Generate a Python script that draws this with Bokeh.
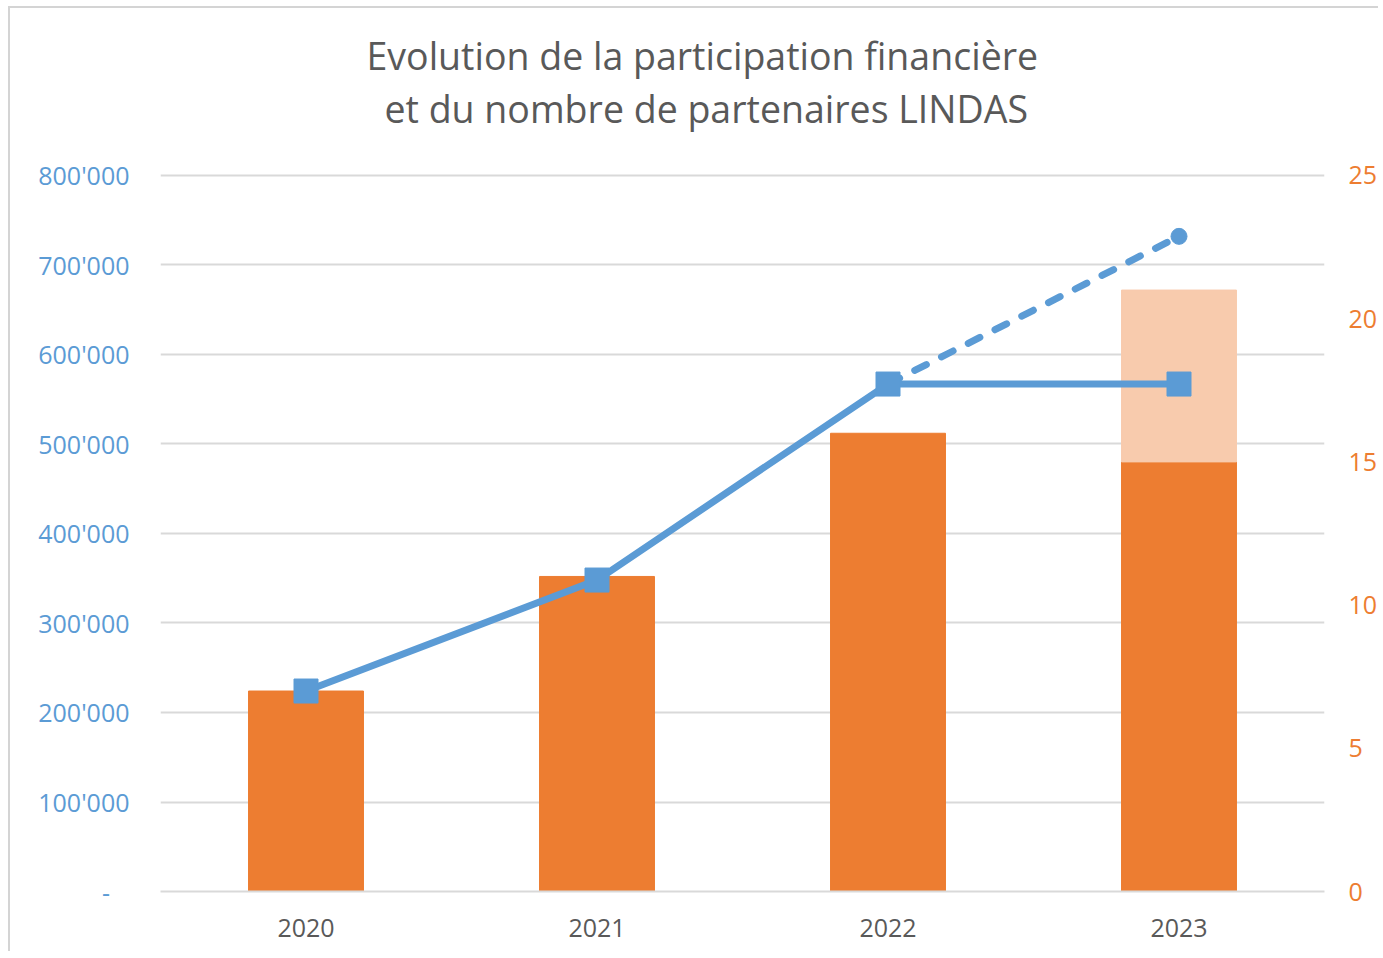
from bokeh.plotting import figure
from bokeh.models import (Range1d, LinearAxis, FixedTicker, CustomJSTickFormatter,
                          Title, FactorRange)
from bokeh.embed import file_html
from bokeh.resources import INLINE

# ---------------- data ----------------
years = ["2020", "2021", "2022", "2023"]
partners = [7, 11, 16, 15]                 # number of partners (right axis)
planned_years = ["2023"]
planned_bottom = [15]
planned_top = [21]                         # expected partners 2023
participation = [224000, 348000, 567000, 567000]   # CHF (left axis)
projection_years = ["2022", "2023"]
projection_values = [567000, 732000]
left_ticks = [0, 100000, 200000, 300000, 400000, 500000, 600000, 700000, 800000]
right_ticks = [0, 5, 10, 15, 20, 25]
title_lines = ["Evolution de la participation financière",
               "et du nombre de partenaires LINDAS"]

FONT = "Open Sans"
BLUE = "#5B9BD5"
ORANGE = "#ED7D31"
LIGHT_ORANGE = "#F8CBAD"
GRID = "#D9D9D9"
TEXT = "#595959"

# frame is 726 px high; 800'000 / 25 sit 716 px above the bottom
p = figure(x_range=FactorRange(*years), y_range=Range1d(0, 811173),
           width=1370, height=945, output_backend="svg", toolbar_location=None,
           min_border_left=150, min_border_right=55, min_border_top=157,
           min_border_bottom=62)
p.extra_y_ranges = {"partners": Range1d(0, 25.349)}
p.outline_line_color = None
p.background_fill_color = "white"
p.border_fill_color = "white"
p.styles = {"margin-left": "8px", "margin-top": "6px",
            "border-left": "2px solid #D4D4D4", "border-top": "2px solid #D4D4D4"}

# grid
p.xgrid.visible = False
p.ygrid.grid_line_color = GRID
p.ygrid.grid_line_width = 2

# left axis
la = p.left[0]
la.ticker = FixedTicker(ticks=left_ticks)
la.formatter = CustomJSTickFormatter(code="""
    if (tick == 0) { return "-\u00a0\u00a0\u00a0"; }
    return Math.round(tick).toString().replace(/\\B(?=(\\d{3})+(?!\\d))/g, "'");
""")
la.axis_line_color = None
la.major_tick_line_color = None
la.minor_tick_line_color = None
la.major_label_text_color = BLUE
la.major_label_text_font = FONT
la.major_label_text_font_size = "25px"
la.major_label_standoff = 25

# right axis
ra = LinearAxis(y_range_name="partners", ticker=FixedTicker(ticks=right_ticks))
ra.axis_line_color = None
ra.major_tick_line_color = None
ra.minor_tick_line_color = None
ra.major_label_text_color = ORANGE
ra.major_label_text_font = FONT
ra.major_label_text_font_size = "25px"
ra.major_label_standoff = 18
p.add_layout(ra, "right")

# bottom axis
xa = p.below[0]
xa.axis_line_color = GRID
xa.axis_line_width = 2
xa.major_tick_line_color = None
xa.minor_tick_line_color = None
xa.major_label_text_color = TEXT
xa.major_label_text_font = FONT
xa.major_label_text_font_size = "25px"
xa.major_label_standoff = 21

# bars
p.vbar(x=years, top=partners, width=0.395, color=ORANGE, y_range_name="partners")
p.vbar(x=planned_years, bottom=planned_bottom, top=planned_top, width=0.395,
       color=LIGHT_ORANGE, y_range_name="partners")

# lines
p.line(projection_years, projection_values, line_color=BLUE, line_width=7,
       line_dash="13 17", line_cap="round")
p.line(years, participation, line_color=BLUE, line_width=7, line_join="round")
p.scatter(years, participation, marker="square", size=24, color=BLUE)
p.scatter(projection_years[1:], projection_values[1:], marker="circle", size=16, color=BLUE)

# title: spacer next to the plot, then second line, then first line
p.add_layout(Title(text=" ", standoff=28, text_font_size="2px"), "above")
p.add_layout(Title(text=title_lines[1], align="left", offset=224, standoff=0,
                   text_font=FONT, text_font_size="37.5px", text_font_style="normal",
                   text_color=TEXT), "above")
p.add_layout(Title(text=title_lines[0], align="left", offset=206, standoff=0,
                   text_font=FONT, text_font_size="37.5px", text_font_style="normal",
                   text_color=TEXT), "above")

open("out.html", "w").write(file_html(p, INLINE))
